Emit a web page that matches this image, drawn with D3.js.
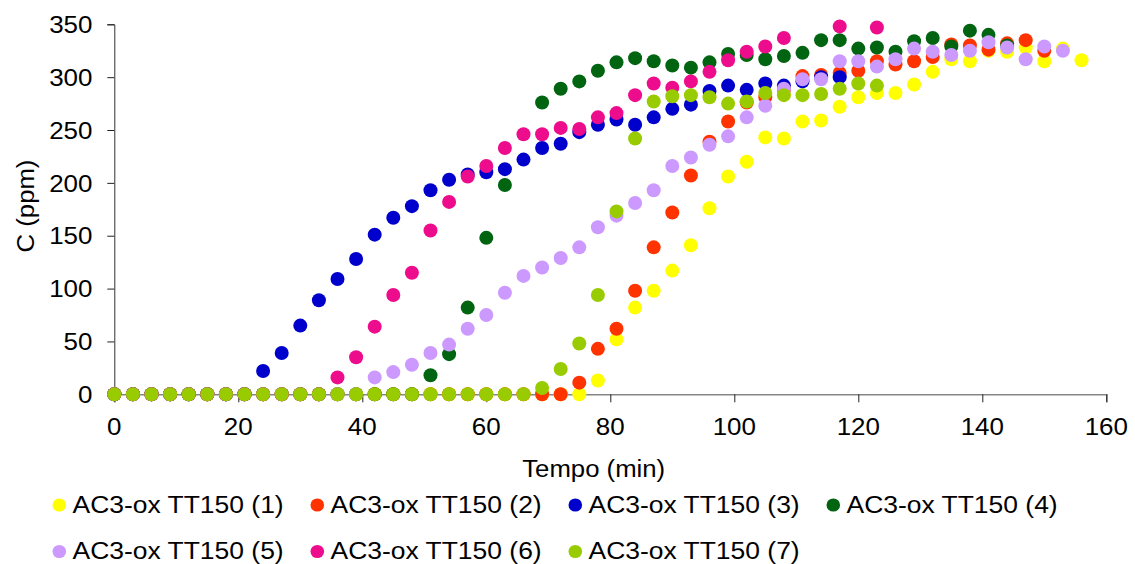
<!DOCTYPE html>
<html><head><meta charset="utf-8">
<script src="https://cdn.jsdelivr.net/npm/d3@7"></script>
<style>
body{margin:0;background:#fff;}
text{font-family:"Liberation Sans",Arial,Helvetica,sans-serif;fill:#000;}
</style>
</head><body>
<svg id="chart" width="1135" height="564"></svg>
<script>
// ---- data ----
const times = [0,3,6,9,12,15,18,21,24,27,30,33,36,39,42,45,48,51,54,57,60,63,66,69,72,75,78,81,84,87,90,93,96,99,102,105,108,111,114,117,120,123,126,129,132,135,138,141,144,147,150,153,156];

const seriesNames = ["AC3-ox TT150 (1)","AC3-ox TT150 (2)","AC3-ox TT150 (3)","AC3-ox TT150 (4)","AC3-ox TT150 (5)","AC3-ox TT150 (6)","AC3-ox TT150 (7)"];
const seriesColors = ["#FFFF00","#FF3300","#0000CC","#006411","#CC99FF","#EC0C8C","#99CC00"];

const s1 = [0,0,0,0,0,0,0,0,0,0,0,0,0,0,0,0,0,0,0,0,0,0,0,0,0,0,
  13,52,82,98,117,141,176,206,220,243,242,258,259,272,281,285,285,293,305,317,315,325,324,328,315,327,316];
const s2 = [0,0,0,0,0,0,0,0,0,0,0,0,0,0,0,0,0,0,0,0,0,0,0,0,0,
  11,43,62,98,139,172,207,239,258,276,281,288,301,302,304,306,315,312,315,319,331,330,326,332,335,325,null,null];
const s3 = [0,0,0,0,0,0,0,0,
  22,39,65,89,109,128,151,167,178,193,203,208,210,213,222,233,237,248,255,260,255,262,270,274,287,292,288,294,292,296,300,300,
  null,null,null,null,null,null,null,null,null,null,null,null,null];
const s4 = [0,0,0,0,0,0,0,0,0,0,0,0,0,0,0,0,0,
  18,38,82,148,198,null,276,289,296,306,314,318,315,311,309,314,322,321,317,320,323,335,335,327,328,324,334,337,329,344,340,330,
  null,null,null,null];
const s5 = [0,0,0,0,0,0,0,0,0,0,0,0,0,0,
  16,21,28,39,47,62,75,96,112,120,129,139,158,169,181,193,216,224,236,244,262,273,289,298,298,315,315,310,317,327,324,321,325,333,328,317,329,325,
  null];
const s6 = [0,0,0,0,0,0,0,0,0,0,0,0,
  16,35,64,94,115,155,182,206,216,233,246,246,252,251,262,266,283,294,290,296,305,316,324,329,337,null,null,348,null,347,
  null,null,null,null,null,null,null,null,null,null,null];
const s7 = [0,0,0,0,0,0,0,0,0,0,0,0,0,0,0,0,0,0,0,0,0,0,0,
  6,24,48,94,173,242,277,282,283,281,275,277,285,283,283,284,289,294,292,
  null,null,null,null,null,null,null,null,null,null,null];

const xTicks = [0,20,40,60,80,100,120,140,160];
const yTicks = [0,50,100,150,200,250,300,350];

// ---- layout ----
const svg = d3.select("#chart");
const x = d3.scaleLinear().domain([0,160]).range([114.3,1106.3]);
const y = d3.scaleLinear().domain([0,350]).range([394.3,24.3]);
const FS = 24.5;

function stretchedText(g, tx, ty, str, anchor, sx, rotate){
  return g.append("g")
    .attr("transform", `translate(${tx},${ty})` + (rotate ? ` rotate(${rotate})` : "") + ` scale(${sx},1)`)
    .append("text")
    .attr("text-anchor", anchor)
    .style("font-size", FS + "px")
    .text(str);
}

// axes
const xAxis = d3.axisBottom(x).tickValues(xTicks).tickSize(8).tickFormat(() => "");
const gx = svg.append("g").attr("transform", `translate(0,${y(0)})`).call(xAxis);
gx.select(".domain").attr("stroke","#858585").attr("stroke-width",1.6);
gx.selectAll(".tick line").attr("stroke","#222").attr("stroke-width",1);

const yAxis = d3.axisLeft(y).tickValues(yTicks).tickSize(7).tickFormat(() => "");
const gy = svg.append("g").attr("transform", `translate(${x(0)},0)`).call(yAxis);
gy.select(".domain").attr("stroke","#333").attr("stroke-width",1);
gy.selectAll(".tick line").attr("stroke","#222").attr("stroke-width",1);

// tick labels
const labels = svg.append("g");
xTicks.forEach(v => stretchedText(labels, x(v), 434.5, String(v), "middle", 1.06));
yTicks.forEach(v => stretchedText(labels, 92.5, y(v) + 8.7, String(v), "end", 1.06));

// axis titles
stretchedText(svg, 593.7, 476.5, "Tempo (min)", "middle", 1.05);
stretchedText(svg, 34, 206, "C (ppm)", "middle", 1.05, -90);

// points
const allSeries = [s1,s2,s3,s4,s5,s6,s7];
allSeries.forEach((vals, i) => {
  const pts = times.map((t, k) => ({t, v: vals[k]})).filter(d => d.v !== null);
  svg.append("g").selectAll("circle").data(pts).join("circle")
    .attr("cx", d => x(d.t))
    .attr("cy", d => y(d.v))
    .attr("r", 7)
    .attr("fill", seriesColors[i]);
});

// legend
const legendX = [59.3, 317.3, 575.3, 833.3];
const legendY = [505, 551.5];
const lg = svg.append("g");
seriesNames.forEach((name, i) => {
  const cx = legendX[i % 4], cy = legendY[Math.floor(i / 4)];
  lg.append("ellipse").attr("cx", cx).attr("cy", cy).attr("rx", 6.8).attr("ry", 6.6).attr("fill", seriesColors[i]);
  stretchedText(lg, cx + 13.2, cy + 7.9, name, "start", 1.08);
});
</script>
</body></html>
